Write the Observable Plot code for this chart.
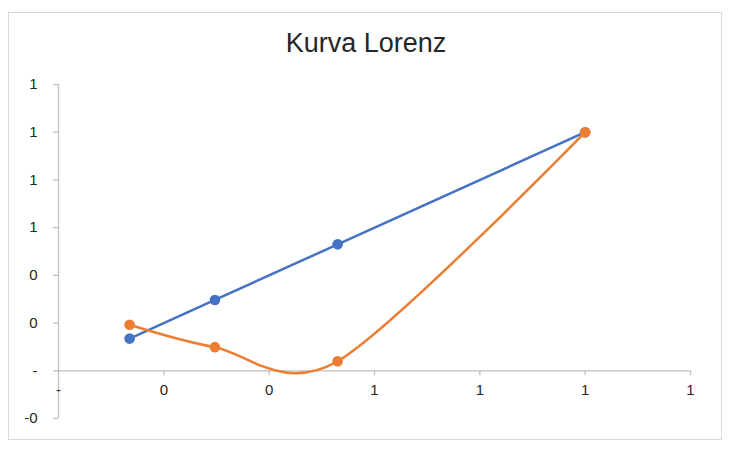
<!DOCTYPE html>
<html>
<head>
<meta charset="utf-8">
<script src="https://cdn.jsdelivr.net/npm/d3@7"></script>
<script src="https://cdn.jsdelivr.net/npm/@observablehq/plot@0.6"></script>
<style>
  html, body { margin: 0; padding: 0; background: #fff; }
  #wrap { position: relative; width: 738px; height: 450px; font-family: "Liberation Sans", Arial, sans-serif; }
  #frame { position: absolute; left: 8px; top: 12px; width: 714px; height: 428px; border: 1.5px solid #d9d9d9; box-sizing: border-box; }
  #title { position: absolute; left: 0; top: 30px; width: 732px; text-align: center; font-size: 27px; line-height: 27px; color: #262626; }
  #chart { position: absolute; left: 0; top: 0; }
</style>
</head>
<body>
<div id="wrap">
  <div id="frame"></div>
  <div id="chart"></div>
  <div id="title">Kurva Lorenz</div>
</div>
<script>
// Cumulative population share (x) for each point
const populationShare = [0.135, 0.297, 0.53, 1.0];
// Line of equality (blue)
const equalityLine = [0.135, 0.297, 0.53, 1.0];
// Lorenz curve (orange)
const lorenzCurve = [0.193, 0.099, 0.040, 1.0];

const xTickValues = [0, 0.2, 0.4, 0.6, 0.8, 1.0, 1.2];
const xTickLabels = ["-", "0", "0", "1", "1", "1", "1"];
const yTickValues = [-0.2, 0, 0.2, 0.4, 0.6, 0.8, 1.0, 1.2];
const yTickLabels = ["-0", "-", "0", "0", "1", "1", "1", "1"];

const blueData = populationShare.map((x, i) => ({x, y: equalityLine[i]}));
const orangeData = populationShare.map((x, i) => ({x, y: lorenzCurve[i]}));

const lookup = (vals, labels) => d => {
  const i = vals.findIndex(v => Math.abs(v - d) < 1e-9);
  return i >= 0 ? labels[i] : "";
};

const axisGray = "#bfbfbf";
const textColor = "#262626";
const W = 738, H = 450, mL = 58, mR = 48, mT = 84, mB = 32;
const yDomain = [-0.2, 1.2];
// offset from the frame bottom up to the y = 0 line (x axis crosses there)
const zeroShift = -((0 - yDomain[0]) / (yDomain[1] - yDomain[0])) * (H - mT - mB);

const chart = Plot.plot({
  width: W,
  height: H,
  marginLeft: mL,
  marginRight: mR,
  marginTop: mT,
  marginBottom: mB,
  style: {fontFamily: '"Liberation Sans", Arial, sans-serif', fontSize: "15px", background: "transparent", overflow: "visible"},
  x: {domain: [0, 1.2]},
  y: {domain: yDomain},
  marks: [
    Plot.ruleX([0], {stroke: axisGray, strokeWidth: 1.3}),
    Plot.ruleY([0], {stroke: axisGray, strokeWidth: 1.3}),
    Plot.axisY({ticks: yTickValues, tickSize: 5, text: null, label: null, stroke: axisGray, strokeWidth: 1.3, strokeOpacity: 1}),
    Plot.axisY({ticks: yTickValues, tickSize: 0, tickPadding: 21, tickFormat: lookup(yTickValues, yTickLabels), fill: textColor, label: null, fontSize: 15}),
    Plot.axisX({ticks: xTickValues.slice(1), tickSize: 5, text: null, label: null, stroke: axisGray, strokeWidth: 1.3, strokeOpacity: 1, dy: zeroShift}),
    Plot.axisX({ticks: xTickValues, tickSize: 0, tickPadding: 14, tickFormat: lookup(xTickValues, xTickLabels), fill: textColor, label: null, fontSize: 15, dy: zeroShift}),
    Plot.line(blueData, {x: "x", y: "y", stroke: "#4472c4", strokeWidth: 2.5}),
    Plot.dot(blueData, {x: "x", y: "y", r: 5.3, fill: "#4472c4"}),
    Plot.line(orangeData, {x: "x", y: "y", stroke: "#ed7d31", strokeWidth: 2.5, curve: "cardinal", tension: 0.12}),
    Plot.dot(orangeData, {x: "x", y: "y", r: 5.3, fill: "#ed7d31"})
  ]
});
document.getElementById("chart").appendChild(chart);
</script>
</body>
</html>
